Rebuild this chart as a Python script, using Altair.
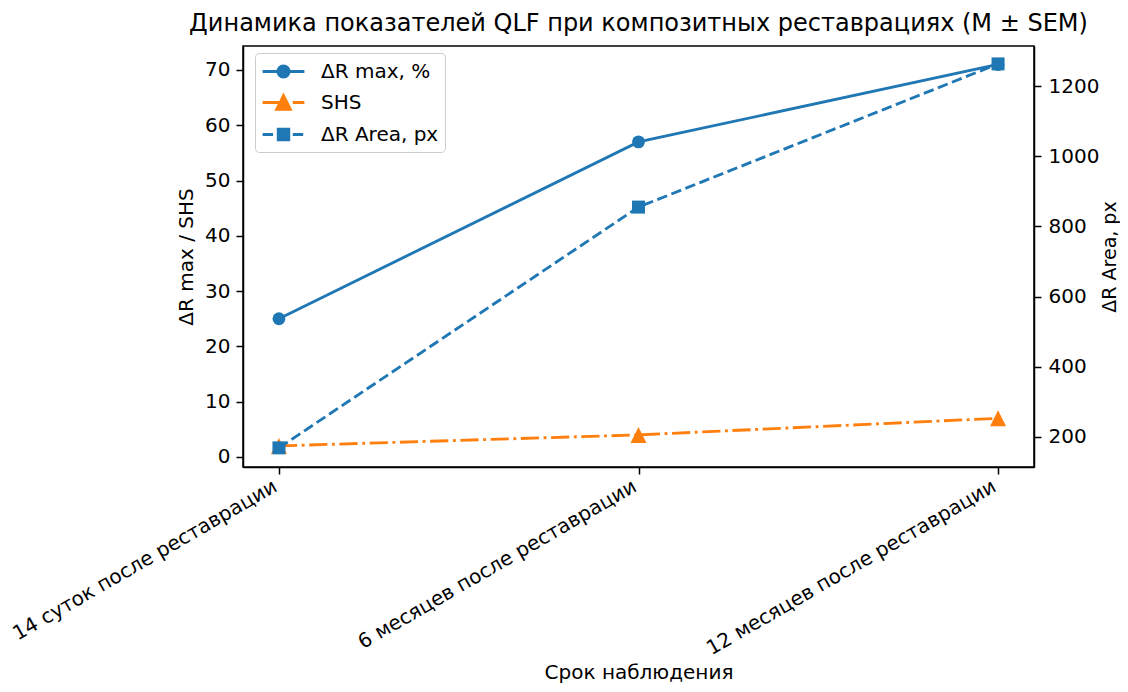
import json
import altair as alt
import pandas as pd

# ---- data ----
periods = ["14 суток после реставрации", "6 месяцев после реставрации", "12 месяцев после реставрации"]
period_idx = [0, 1, 2]
dr_max = [25.0, 57.0, 71.0]
shs = [2.0, 4.0, 7.0]
dr_area = [169.0, 855.0, 1263.0]
series_names = ["ΔR max, %", "SHS", "ΔR Area, px"]
left_ticks = [0, 10, 20, 30, 40, 50, 60, 70]
right_ticks = [200, 400, 600, 800, 1000, 1200]

BLUE = "#1f77b4"
ORANGE = "#ff7f0e"
FONT = "DejaVu Sans"
LW = 2.85
FS = 20

df = pd.DataFrame({
    "idx": period_idx * 3,
    "period": periods * 3,
    "series": [s for s in series_names for _ in range(3)],
    "value": dr_max + shs + dr_area,
})

label_expr = json.dumps(periods, ensure_ascii=False) + "[datum.value]"

X = alt.X(
    "idx:Q",
    scale=alt.Scale(domain=[-0.1, 2.1], nice=False, zero=False),
    axis=alt.Axis(
        values=period_idx, labelExpr=label_expr, labelAngle=-30, labelAlign="right",
        labelBaseline="top", labelOffset=-9, labelLimit=0, labelOverlap=False,
        labelFlush=False, labelBound=False, labelPadding=2,
        title="Срок наблюдения", titlePadding=4,
    ),
)
Y_left = alt.Y(
    "value:Q",
    scale=alt.Scale(domain=[-1.81, 74.34], nice=False, zero=False),
    axis=alt.Axis(values=left_ticks, format="d", title="ΔR max / SHS", orient="left", titlePadding=8),
)
Y_right = alt.Y(
    "value:Q",
    scale=alt.Scale(domain=[114.5, 1314.0], nice=False, zero=False),
    axis=alt.Axis(values=right_ticks, format="d", title="ΔR Area, px", orient="right",
                  titleAngle=270, titleBaseline="top", titlePadding=2, titleFontSize=19,
                  labelPadding=7),
)

def sub(name):
    return alt.Chart(df).transform_filter(alt.datum.series == name)

tri_path = "M0,-1L1,1L-1,1Z"

l_max = sub(series_names[0]).mark_line(color=BLUE, strokeWidth=LW).encode(x=X, y=Y_left)
p_max = sub(series_names[0]).mark_point(filled=True, shape="circle", size=165, color=BLUE, opacity=1).encode(x=X, y=Y_left)
l_shs = sub(series_names[1]).mark_line(color=ORANGE, strokeWidth=LW, strokeDash=[18.2, 4.6, 2.85, 4.6]).encode(x=X, y=Y_left)
p_shs = sub(series_names[1]).mark_point(filled=True, shape=tri_path, size=256, color=ORANGE, opacity=1).encode(x=X, y=Y_left)

l_area = sub(series_names[2]).mark_line(color=BLUE, strokeWidth=LW, strokeDash=[10.5, 4.6]).encode(x=X, y=Y_right)
p_area = sub(series_names[2]).mark_point(filled=True, shape="square", size=169, color=BLUE, opacity=1).encode(x=X, y=Y_right)

# legend symbols: line + marker paths (unit = 11 px for symbolSize 484)
circ = "M0.51,0A0.51,0.51 0 1,1 -0.51,0A0.51,0.51 0 1,1 0.51,0Z"
leg_max = "M-1.9,0H1.9" + circ
leg_shs = "M-1.9,0H-0.25M0.16,0H0.42M0.84,0H1.9M0,-0.62L0.62,0.62L-0.62,0.62Z"
leg_area = "M-1.9,0H-0.95M-0.54,0H0.42M0.84,0H1.79M-0.48,-0.48H0.48V0.48H-0.48Z"
leg_paths = [leg_max, leg_shs, leg_area]

leg = alt.Legend(
    title=None, orient="none", legendX=12, legendY=7, fillColor="white",
    strokeColor="#cccccc", cornerRadius=4, padding=6, labelFont=FONT, labelFontSize=FS,
    labelColor="black", symbolSize=484, symbolStrokeWidth=LW, symbolOffset=10,
    labelOffset=25, rowPadding=6, labelLimit=0,
)
legend_layer = alt.Chart(df).transform_filter("false").mark_point(
    filled=False, strokeWidth=LW, opacity=1
).encode(
    x=X, y=Y_right,
    fill=alt.Fill("series:N", scale=alt.Scale(domain=series_names, range=[BLUE, ORANGE, BLUE]), legend=leg),
    stroke=alt.Stroke("series:N", scale=alt.Scale(domain=series_names, range=[BLUE, ORANGE, BLUE]), legend=leg),
    shape=alt.Shape("series:N", scale=alt.Scale(domain=series_names, range=leg_paths), legend=leg),
)

left = alt.layer(l_max, p_max, l_shs, p_shs)
right = alt.layer(l_area, p_area, legend_layer)

chart = alt.layer(left, right).resolve_scale(y="independent").properties(
    width=791, height=421,
    padding={"left": 235, "top": 38, "right": 86, "bottom": 217},
    autosize=alt.AutoSizeParams(type="none"),
    title=alt.Title(
        "Динамика показателей QLF при композитных реставрациях (M ± SEM)",
        font=FONT, fontSize=24, fontWeight="normal", color="black", anchor="middle", offset=10,
    ),
).configure_view(stroke="black", strokeWidth=1.5).configure_axis(
    grid=False, domainColor="black", domainWidth=1.5, tickColor="black", tickWidth=1.5,
    tickSize=7, labelPadding=6, labelFont=FONT, labelFontSize=FS, labelColor="black",
    titleFont=FONT, titleFontSize=FS, titleFontWeight="normal", titleColor="black",
)

chart.save("out.html", embed_options={"renderer": "svg", "actions": False})
